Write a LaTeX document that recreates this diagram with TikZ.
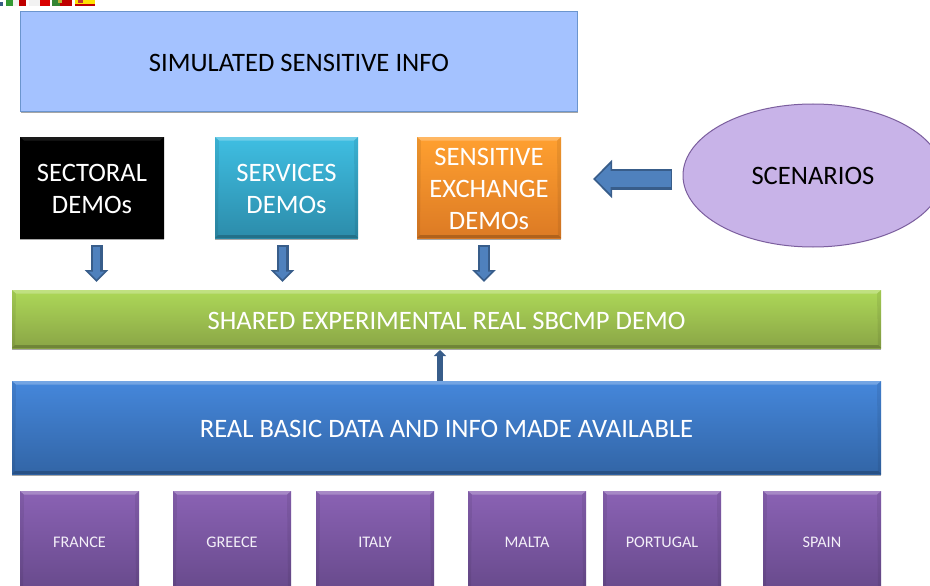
\documentclass[tikz,border=0pt]{standalone}
\usepackage{fontspec}
\setmainfont{Carlito}
\usetikzlibrary{arrows.meta,shadows,calc,shapes.geometric}
\definecolor{topblue}{HTML}{A4C2FF}
\definecolor{topblueedge}{HTML}{6B95CE}
\definecolor{ellfill}{HTML}{C8B3E8}
\definecolor{elledge}{HTML}{7B5E9E}
\definecolor{arrfill}{HTML}{4F81BD}
\definecolor{arredge}{HTML}{385D8A}
\definecolor{tealT}{HTML}{3FBEE2}\definecolor{tealB}{HTML}{2C8CAA}
\definecolor{oranT}{HTML}{FFA030}\definecolor{oranB}{HTML}{DC7A24}
\definecolor{grnT}{HTML}{ADD858}\definecolor{grnB}{HTML}{8AA546}
\definecolor{bluT}{HTML}{4587DB}\definecolor{bluB}{HTML}{3265A6}
\definecolor{purT}{HTML}{8A62B4}\definecolor{purB}{HTML}{684A8C}
\definecolor{blkT}{HTML}{000000}\definecolor{blkB}{HTML}{000000}
\def\bevop{.25}
\tikzset{
  softshadow/.style={drop shadow={shadow xshift=0pt,shadow yshift=-2pt,opacity=.35,fill=black}},
  gradbox/.style={inner sep=0pt,outer sep=0pt,softshadow},
  caption/.style={inner sep=0pt,outer sep=0pt,align=center,text=white},
  flatbox/.style={inner sep=0pt,outer sep=0pt},
  bigtext/.style={font=\fontsize{26.6}{32}\selectfont},
  smalltext/.style={font=\fontsize{16.2}{19}\selectfont,text=white!90!purT},
  bevtop/.style={fill=white,fill opacity=\bevop},
  bevbot/.style={fill=black,fill opacity=.2},
  bevside/.style={fill=black,fill opacity=.07},
  downfat/.style={-{Triangle[length=12pt,width=23pt]},line width=12pt,draw=arredge},
  downthin/.style={-{Triangle[length=8pt,width=15.5pt]},line width=7.5pt,draw=arrfill},
  leftfat/.style={-{Triangle[length=19pt,width=37pt]},line width=21pt,draw=arredge},
  leftthin/.style={-{Triangle[length=15pt,width=29pt]},line width=16.5pt,draw=arrfill},
  upthin/.style={-{Triangle[length=6pt,width=12pt]},line width=5.5pt,draw=arredge},
}
% name, x1, y1, x2, y2, colour prefix, text style, text
\newcommand{\bevelbox}[8]{%
  \pgfmathsetmacro{\bw}{#4-#2}\pgfmathsetmacro{\bh}{#5-#3}%
  \node[gradbox,minimum width=\bw pt,minimum height=\bh pt,
        top color=#6T,bottom color=#6B] (#1) at ({(#2+#4)/2},{(#3+#5)/2}) {};
  \fill[bevtop] (#1.north west) -- (#1.north east) -- ([xshift=-4pt,yshift=-3.5pt]#1.north east) -- ([xshift=4pt,yshift=-3.5pt]#1.north west) -- cycle;
  \fill[bevbot] (#1.south west) -- (#1.south east) -- ([xshift=-3pt,yshift=3pt]#1.south east) -- ([xshift=3pt,yshift=3pt]#1.south west) -- cycle;
  \fill[bevside] (#1.north west) -- ([xshift=4pt,yshift=-3.5pt]#1.north west) -- ([xshift=3pt,yshift=3pt]#1.south west) -- (#1.south west) -- cycle;
  \fill[bevside] (#1.north east) -- ([xshift=-4pt,yshift=-3.5pt]#1.north east) -- ([xshift=-3pt,yshift=3pt]#1.south east) -- (#1.south east) -- cycle;
  \node[caption,#7] (#1text) at ([yshift=-1.5pt]#1.center) {#8};
}
\newcommand{\blockdown}[3]{%
  \coordinate (#1from) at ([xshift=#3pt,yshift=-7pt]#1.south);
  \coordinate (#1to) at (#1from |- #2.north);
  \draw[downfat] (#1from) -- ([yshift=8pt]#1to);
  \draw[downthin] ([yshift=-1.5pt]#1from) -- ([yshift=10.5pt]#1to);
}
\begin{document}
\begin{tikzpicture}[x=1pt,y=-1pt]
\useasboundingbox (0,0) rectangle (930,586);
\fill[white] (0,0) rectangle (930,586);
% flag strip
\fill[arrfill!70!black] (0,2) rectangle (3,6);
\fill[green!50!black!80] (6,0) rectangle (13,6);
\fill[white!95!black] (13,0) rectangle (19,6);
\fill[red!75!black] (19,0) rectangle (26,6);
\fill[white!95!black] (29,0) rectangle (40,6);
\fill[red!85!black] (40,0) rectangle (50,6);
\fill[green!40!black!80] (52,0) rectangle (60,6);
\fill[red!75!black] (60,0) rectangle (72,6);
\fill[yellow!70!black] (58,0) rectangle (62,3);
\fill[red!75!black] (75,0) rectangle (95,6);
\fill[yellow!85!orange] (75,0) rectangle (95,4);
\fill[red!70!black!80] (78,0) rectangle (83,3);
% top box
\node[flatbox,softshadow,draw=topblueedge,line width=1.2pt,fill=topblue,minimum width=557pt,minimum height=100pt] (info) at (299,61.5) {};
\node[caption,bigtext,text=black] (infotext) at ([yshift=-1pt]info.center) {SIMULATED SENSITIVE INFO};
% demo boxes
\def\bevop{.1}
\bevelbox{sectoral}{20}{137}{164}{238}{blk}{bigtext}{SECTORAL\\DEMOs}
\def\bevop{.25}
\bevelbox{services}{215}{137}{358}{238}{teal}{bigtext}{SERVICES\\DEMOs}
\bevelbox{exchange}{417}{137}{561}{238}{oran}{bigtext}{SENSITIVE\\EXCHANGE\\DEMOs}
% scenarios
\node[ellipse,draw=elledge,line width=1pt,fill=ellfill,flatbox,bigtext,text=black,minimum width=260pt,minimum height=143pt] (scen) at (813,175.5) {SCENARIOS};
% bars
\bevelbox{shared}{12}{290}{881}{348}{grn}{bigtext}{SHARED EXPERIMENTAL REAL SBCMP DEMO}
\bevelbox{basic}{12}{381}{881}{474}{blu}{bigtext}{REAL BASIC DATA AND INFO MADE AVAILABLE}
% countries
\bevelbox{france}{20}{491}{139}{590}{pur}{smalltext}{FRANCE}
\bevelbox{greece}{173}{491}{291}{590}{pur}{smalltext}{GREECE}
\bevelbox{italy}{316}{491}{434}{590}{pur}{smalltext}{ITALY}
\bevelbox{malta}{468}{491}{586}{590}{pur}{smalltext}{MALTA}
\bevelbox{portugal}{603}{491}{721}{590}{pur}{smalltext}{PORTUGAL}
\bevelbox{spain}{763}{491}{881}{590}{pur}{smalltext}{SPAIN}
% connectors
\blockdown{sectoral}{shared}{4.5}
\blockdown{services}{shared}{-4}
\blockdown{exchange}{shared}{-5}
\coordinate (leftfrom) at ([xshift=-11pt,yshift=-3.5pt]scen.west);
\coordinate (leftto) at (leftfrom -| exchange.east);
\draw[leftfat] (leftfrom) -- ([xshift=32pt]leftto);
\draw[leftthin] ([xshift=-1.5pt]leftfrom) -- ([xshift=34.5pt]leftto);
\coordinate (upfrom) at ([xshift=-6.5pt]basic.north);
\draw[upthin] (upfrom) -- ([yshift=-2pt]upfrom |- shared.south);
\end{tikzpicture}
\end{document}
